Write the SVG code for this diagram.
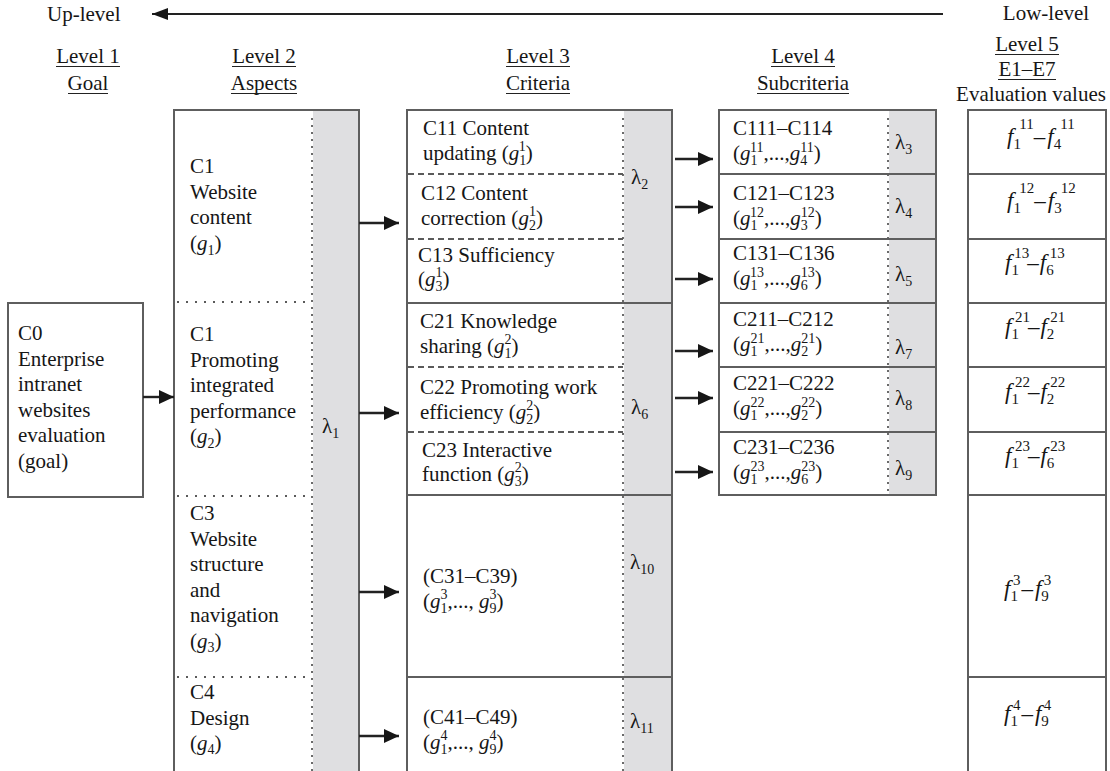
<svg xmlns="http://www.w3.org/2000/svg" width="1110" height="771" viewBox="0 0 1110 771">
  <style>
    .t { font-family: "Liberation Serif", "Times New Roman", serif; font-size: 21px; fill: #161616; }
    .m { text-anchor: middle; }
    .i { font-style: italic; }
    .s { font-size: 14px; }
    .fv { font-size: 23px; }
    .fs { font-size: 15px; }
    .box { fill: #ffffff; stroke: #5e5e5e; stroke-width: 2; }
    .frame { fill: none; stroke: #5e5e5e; stroke-width: 2; }
    .band { fill: #dfdfe1; }
    .dot { stroke: #5a5a5a; stroke-width: 2; stroke-dasharray: 2 7; fill: none; }
    .vdot { stroke: #6a6a6a; stroke-width: 2; stroke-dasharray: 2 5; fill: none; }
    .dash { stroke: #5a5a5a; stroke-width: 2; stroke-dasharray: 6 4; fill: none; }
    .rule { stroke: #5e5e5e; stroke-width: 2; }
    .ul { stroke: #222222; stroke-width: 1.2; }
    .conn { stroke: #222222; stroke-width: 2.4; fill: none; }
  </style>
  <defs>
    <marker id="ah" viewBox="0 0 15 14" refX="15" refY="7" markerWidth="15" markerHeight="14" markerUnits="userSpaceOnUse" orient="auto">
      <path d="M0,0 L15,7 L0,14 Z" fill="#161616"/>
    </marker>
    <marker id="ahTop" viewBox="0 0 16 12" refX="16" refY="6" markerWidth="16" markerHeight="12" markerUnits="userSpaceOnUse" orient="auto">
      <path d="M0,0 L16,6 L0,12 Z" fill="#161616"/>
    </marker>
  </defs>

  <rect width="1110" height="771" fill="#ffffff"/>

  <!-- direction banner -->
  <g id="direction">
    <text class="t" x="47" y="21">Up-level</text>
    <text class="t m" x="1046" y="20">Low-level</text>
  </g>

  <!-- level headings -->
  <g id="headings">
    <text class="t m" x="88" y="63">Level 1</text>
    <text class="t m" x="88" y="90">Goal</text>
    <line class="ul" x1="56" y1="66.5" x2="120" y2="66.5"/>
    <line class="ul" x1="68" y1="93.5" x2="108" y2="93.5"/>

    <text class="t m" x="264" y="63">Level 2</text>
    <text class="t m" x="264" y="90">Aspects</text>
    <line class="ul" x1="232" y1="66.5" x2="296" y2="66.5"/>
    <line class="ul" x1="231" y1="93.5" x2="297" y2="93.5"/>

    <text class="t m" x="538" y="63">Level 3</text>
    <text class="t m" x="538" y="90">Criteria</text>
    <line class="ul" x1="506" y1="66.5" x2="570" y2="66.5"/>
    <line class="ul" x1="506" y1="93.5" x2="570" y2="93.5"/>

    <text class="t m" x="803" y="63">Level 4</text>
    <text class="t m" x="803" y="90">Subcriteria</text>
    <line class="ul" x1="771" y1="66.5" x2="835" y2="66.5"/>
    <line class="ul" x1="757" y1="93.5" x2="849" y2="93.5"/>

    <text class="t m" x="1027" y="51">Level 5</text>
    <text class="t m" x="1027" y="76">E1–E7</text>
    <line class="ul" x1="995" y1="54.5" x2="1059" y2="54.5"/>
    <line class="ul" x1="998" y1="79.5" x2="1056" y2="79.5"/>
    <text class="t m" x="1031" y="101">Evaluation values</text>
  </g>

  <!-- Level 1: goal -->
  <g id="goal">
    <rect class="box" x="8" y="303" width="135" height="194"/>
    <text class="t" x="18" y="340">C0</text>
    <text class="t" x="18" y="365.5">Enterprise</text>
    <text class="t" x="18" y="391">intranet</text>
    <text class="t" x="18" y="416.5">websites</text>
    <text class="t" x="18" y="442">evaluation</text>
    <text class="t" x="18" y="467.5">(goal)</text>
  </g>

  <!-- Level 2: aspects -->
  <g id="aspects">
    <rect class="box" x="174" y="110" width="185" height="700"/>
    <rect class="band" x="313" y="111" width="45" height="699"/>
    <line class="vdot" x1="312" y1="118" x2="312" y2="771"/>
    <line class="dot" x1="177" y1="302" x2="312" y2="302"/>
    <line class="dot" x1="177" y1="496" x2="312" y2="496"/>
    <line class="dot" x1="177" y1="677" x2="312" y2="677"/>
    <rect class="frame" x="174" y="110" width="185" height="700"/>

    <text class="t" x="190" y="173">C1</text>
    <text class="t" x="190" y="198.5">Website</text>
    <text class="t" x="190" y="224">content</text>
    <text class="t" x="190" y="249.5">(<tspan class="i">g</tspan><tspan class="s" dy="5">1</tspan><tspan dy="-5">)</tspan></text>

    <text class="t" x="190" y="341">C1</text>
    <text class="t" x="190" y="366.5">Promoting</text>
    <text class="t" x="190" y="392">integrated</text>
    <text class="t" x="190" y="417.5">performance</text>
    <text class="t" x="190" y="443">(<tspan class="i">g</tspan><tspan class="s" dy="5">2</tspan><tspan dy="-5">)</tspan></text>

    <text class="t" x="190" y="520">C3</text>
    <text class="t" x="190" y="545.5">Website</text>
    <text class="t" x="190" y="571">structure</text>
    <text class="t" x="190" y="596.5">and</text>
    <text class="t" x="190" y="622">navigation</text>
    <text class="t" x="190" y="647.5">(<tspan class="i">g</tspan><tspan class="s" dy="4">3</tspan><tspan dy="-4">)</tspan></text>

    <text class="t" x="190" y="699">C4</text>
    <text class="t" x="190" y="724.5">Design</text>
    <text class="t" x="190" y="750">(<tspan class="i">g</tspan><tspan class="s" dy="4">4</tspan><tspan dy="-4">)</tspan></text>

    <text class="t" x="322" y="433">λ<tspan class="s" dy="5">1</tspan></text>
  </g>

  <!-- Level 3: criteria -->
  <g id="criteria">
    <rect class="box" x="407" y="110" width="265" height="700"/>
    <rect class="band" x="624" y="111" width="47" height="699"/>
    <line class="vdot" x1="623" y1="118" x2="623" y2="771"/>
    <line class="dash" x1="408" y1="174" x2="623" y2="174"/>
    <line class="dash" x1="408" y1="239" x2="623" y2="239"/>
    <line class="dash" x1="408" y1="367" x2="623" y2="367"/>
    <line class="dash" x1="408" y1="432" x2="623" y2="432"/>
    <line class="rule" x1="407" y1="303" x2="672" y2="303"/>
    <line class="rule" x1="407" y1="495" x2="672" y2="495"/>
    <line class="rule" x1="407" y1="677" x2="672" y2="677"/>
    <rect class="frame" x="407" y="110" width="265" height="700"/>

    <text class="t" x="423" y="135">C11 Content</text>
    <text class="t" x="423" y="160">updating (<tspan class="i">g</tspan><tspan class="s" dy="5">1</tspan><tspan class="s" dx="-7" dy="-14">1</tspan><tspan dy="9">)</tspan></text>

    <text class="t" x="421" y="200">C12 Content</text>
    <text class="t" x="421" y="225">correction (<tspan class="i">g</tspan><tspan class="s" dy="5">2</tspan><tspan class="s" dx="-7" dy="-14">1</tspan><tspan dy="9">)</tspan></text>

    <text class="t" x="418" y="262">C13 Sufficiency</text>
    <text class="t" x="418" y="286">(<tspan class="i">g</tspan><tspan class="s" dy="5">3</tspan><tspan class="s" dx="-7" dy="-14">1</tspan><tspan dy="9">)</tspan></text>

    <text class="t" x="420" y="328">C21 Knowledge</text>
    <text class="t" x="420" y="353">sharing (<tspan class="i">g</tspan><tspan class="s" dy="5">1</tspan><tspan class="s" dx="-7" dy="-14">2</tspan><tspan dy="9">)</tspan></text>

    <text class="t" x="420" y="394">C22 Promoting work</text>
    <text class="t" x="420" y="419">efficiency (<tspan class="i">g</tspan><tspan class="s" dy="5">2</tspan><tspan class="s" dx="-7" dy="-14">2</tspan><tspan dy="9">)</tspan></text>

    <text class="t" x="422" y="457">C23 Interactive</text>
    <text class="t" x="422" y="481">function (<tspan class="i">g</tspan><tspan class="s" dy="5">3</tspan><tspan class="s" dx="-7" dy="-14">2</tspan><tspan dy="9">)</tspan></text>

    <text class="t" x="423" y="583">(C31–C39)</text>
    <text class="t" x="423" y="608">(<tspan class="i">g</tspan><tspan class="s" dy="5">1</tspan><tspan class="s" dx="-7" dy="-14">3</tspan><tspan dy="9">,..., </tspan><tspan class="i">g</tspan><tspan class="s" dy="5">9</tspan><tspan class="s" dx="-7" dy="-14">3</tspan><tspan dy="9">)</tspan></text>

    <text class="t" x="423" y="724">(C41–C49)</text>
    <text class="t" x="423" y="749">(<tspan class="i">g</tspan><tspan class="s" dy="5">1</tspan><tspan class="s" dx="-7" dy="-14">4</tspan><tspan dy="9">,..., </tspan><tspan class="i">g</tspan><tspan class="s" dy="5">9</tspan><tspan class="s" dx="-7" dy="-14">4</tspan><tspan dy="9">)</tspan></text>

    <text class="t" x="631" y="184">λ<tspan class="s" dy="5">2</tspan></text>
    <text class="t" x="631" y="414">λ<tspan class="s" dy="5">6</tspan></text>
    <text class="t" x="630" y="569">λ<tspan class="s" dy="5">10</tspan></text>
    <text class="t" x="630" y="728">λ<tspan class="s" dy="5">11</tspan></text>
  </g>

  <!-- Level 4: subcriteria -->
  <g id="subcriteria">
    <rect class="box" x="719" y="110" width="217" height="385"/>
    <rect class="band" x="889" y="111" width="46" height="383"/>
    <line class="vdot" x1="888" y1="118" x2="888" y2="495"/>
    <line class="rule" x1="719" y1="174" x2="936" y2="174"/>
    <line class="rule" x1="719" y1="239" x2="936" y2="239"/>
    <line class="rule" x1="719" y1="303" x2="936" y2="303"/>
    <line class="rule" x1="719" y1="367" x2="936" y2="367"/>
    <line class="rule" x1="719" y1="432" x2="936" y2="432"/>
    <rect class="frame" x="719" y="110" width="217" height="385"/>

    <text class="t" x="733" y="135">C111–C114</text>
    <text class="t" x="733" y="160">(<tspan class="i">g</tspan><tspan class="s" dy="5">1</tspan><tspan class="s" dx="-7" dy="-13">11</tspan><tspan dy="8">,...,</tspan><tspan class="i">g</tspan><tspan class="s" dy="5">4</tspan><tspan class="s" dx="-7" dy="-13">11</tspan><tspan dy="8">)</tspan></text>

    <text class="t" x="733" y="200">C121–C123</text>
    <text class="t" x="733" y="225">(<tspan class="i">g</tspan><tspan class="s" dy="5">1</tspan><tspan class="s" dx="-7" dy="-13">12</tspan><tspan dy="8">,...,</tspan><tspan class="i">g</tspan><tspan class="s" dy="5">3</tspan><tspan class="s" dx="-7" dy="-13">12</tspan><tspan dy="8">)</tspan></text>

    <text class="t" x="733" y="260">C131–C136</text>
    <text class="t" x="733" y="285">(<tspan class="i">g</tspan><tspan class="s" dy="5">1</tspan><tspan class="s" dx="-7" dy="-13">13</tspan><tspan dy="8">,...,</tspan><tspan class="i">g</tspan><tspan class="s" dy="5">6</tspan><tspan class="s" dx="-7" dy="-13">13</tspan><tspan dy="8">)</tspan></text>

    <text class="t" x="733" y="326">C211–C212</text>
    <text class="t" x="733" y="351">(<tspan class="i">g</tspan><tspan class="s" dy="5">1</tspan><tspan class="s" dx="-7" dy="-13">21</tspan><tspan dy="8">,...,</tspan><tspan class="i">g</tspan><tspan class="s" dy="5">2</tspan><tspan class="s" dx="-7" dy="-13">21</tspan><tspan dy="8">)</tspan></text>

    <text class="t" x="733" y="390">C221–C222</text>
    <text class="t" x="733" y="415">(<tspan class="i">g</tspan><tspan class="s" dy="5">1</tspan><tspan class="s" dx="-7" dy="-13">22</tspan><tspan dy="8">,...,</tspan><tspan class="i">g</tspan><tspan class="s" dy="5">2</tspan><tspan class="s" dx="-7" dy="-13">22</tspan><tspan dy="8">)</tspan></text>

    <text class="t" x="733" y="454">C231–C236</text>
    <text class="t" x="733" y="479">(<tspan class="i">g</tspan><tspan class="s" dy="5">1</tspan><tspan class="s" dx="-7" dy="-13">23</tspan><tspan dy="8">,...,</tspan><tspan class="i">g</tspan><tspan class="s" dy="5">6</tspan><tspan class="s" dx="-7" dy="-13">23</tspan><tspan dy="8">)</tspan></text>

    <text class="t" x="895" y="149">λ<tspan class="s" dy="5">3</tspan></text>
    <text class="t" x="895" y="213">λ<tspan class="s" dy="5">4</tspan></text>
    <text class="t" x="895" y="281">λ<tspan class="s" dy="5">5</tspan></text>
    <text class="t" x="895" y="354">λ<tspan class="s" dy="5">7</tspan></text>
    <text class="t" x="895" y="405">λ<tspan class="s" dy="5">8</tspan></text>
    <text class="t" x="895" y="475">λ<tspan class="s" dy="5">9</tspan></text>
  </g>

  <!-- Level 5: evaluation values -->
  <g id="values">
    <rect class="box" x="968" y="110" width="138" height="700"/>
    <line class="rule" x1="968" y1="174" x2="1106" y2="174"/>
    <line class="rule" x1="968" y1="239" x2="1106" y2="239"/>
    <line class="rule" x1="968" y1="303" x2="1106" y2="303"/>
    <line class="rule" x1="968" y1="367" x2="1106" y2="367"/>
    <line class="rule" x1="968" y1="432" x2="1106" y2="432"/>
    <line class="rule" x1="968" y1="495" x2="1106" y2="495"/>
    <line class="rule" x1="968" y1="677" x2="1106" y2="677"/>

    <text class="t fv" x="1007" y="144"><tspan class="i">f</tspan><tspan class="fs" dy="5">1</tspan><tspan class="fs" dx="-1" dy="-20">11</tspan><tspan dx="0" dy="15">–</tspan><tspan class="i" dx="2">f</tspan><tspan class="fs" dy="5">4</tspan><tspan class="fs" dx="-1" dy="-20">11</tspan></text>
    <text class="t fv" x="1007" y="208"><tspan class="i">f</tspan><tspan class="fs" dy="5">1</tspan><tspan class="fs" dx="-1" dy="-20">12</tspan><tspan dx="0" dy="15">–</tspan><tspan class="i" dx="2">f</tspan><tspan class="fs" dy="5">3</tspan><tspan class="fs" dx="-1" dy="-20">12</tspan></text>
    <text class="t fv" x="1005" y="270"><tspan class="i">f</tspan><tspan class="fs" dy="5">1</tspan><tspan class="fs" dx="-4" dy="-17">13</tspan><tspan dx="-2" dy="12">–</tspan><tspan class="i" dx="1">f</tspan><tspan class="fs" dy="5">6</tspan><tspan class="fs" dx="-4" dy="-17">13</tspan></text>
    <text class="t fv" x="1005" y="334"><tspan class="i">f</tspan><tspan class="fs" dy="5">1</tspan><tspan class="fs" dx="-4" dy="-17">21</tspan><tspan dx="-2" dy="12">–</tspan><tspan class="i" dx="1">f</tspan><tspan class="fs" dy="5">2</tspan><tspan class="fs" dx="-4" dy="-17">21</tspan></text>
    <text class="t fv" x="1005" y="399"><tspan class="i">f</tspan><tspan class="fs" dy="5">1</tspan><tspan class="fs" dx="-4" dy="-17">22</tspan><tspan dx="-2" dy="12">–</tspan><tspan class="i" dx="1">f</tspan><tspan class="fs" dy="5">2</tspan><tspan class="fs" dx="-4" dy="-17">22</tspan></text>
    <text class="t fv" x="1005" y="463"><tspan class="i">f</tspan><tspan class="fs" dy="5">1</tspan><tspan class="fs" dx="-4" dy="-17">23</tspan><tspan dx="-2" dy="12">–</tspan><tspan class="i" dx="1">f</tspan><tspan class="fs" dy="5">6</tspan><tspan class="fs" dx="-4" dy="-17">23</tspan></text>
    <text class="t fv" x="1004" y="596"><tspan class="i">f</tspan><tspan class="fs" dy="5">1</tspan><tspan class="fs" dx="-5" dy="-16">3</tspan><tspan dx="1" dy="11">–</tspan><tspan class="i" dx="2">f</tspan><tspan class="fs" dy="5">9</tspan><tspan class="fs" dx="-5" dy="-16">3</tspan></text>
    <text class="t fv" x="1004" y="721"><tspan class="i">f</tspan><tspan class="fs" dy="5">1</tspan><tspan class="fs" dx="-5" dy="-16">4</tspan><tspan dx="1" dy="11">–</tspan><tspan class="i" dx="2">f</tspan><tspan class="fs" dy="5">9</tspan><tspan class="fs" dx="-5" dy="-16">4</tspan></text>
  </g>

  <!-- connectors -->
  <g id="connectors">
    <line x1="943" y1="14" x2="152" y2="14" stroke="#222222" stroke-width="2" marker-end="url(#ahTop)"/>

    <line class="conn" x1="143" y1="397" x2="174" y2="397" marker-end="url(#ah)"/>

    <line class="conn" x1="359" y1="223" x2="399" y2="223" marker-end="url(#ah)"/>
    <line class="conn" x1="359" y1="413" x2="399" y2="413" marker-end="url(#ah)"/>
    <line class="conn" x1="359" y1="592" x2="399" y2="592" marker-end="url(#ah)"/>
    <line class="conn" x1="359" y1="736" x2="399" y2="736" marker-end="url(#ah)"/>

    <line class="conn" x1="675" y1="159" x2="713" y2="159" marker-end="url(#ah)"/>
    <line class="conn" x1="675" y1="207" x2="713" y2="207" marker-end="url(#ah)"/>
    <line class="conn" x1="675" y1="279" x2="713" y2="279" marker-end="url(#ah)"/>
    <line class="conn" x1="675" y1="351" x2="713" y2="351" marker-end="url(#ah)"/>
    <line class="conn" x1="675" y1="398" x2="713" y2="398" marker-end="url(#ah)"/>
    <line class="conn" x1="675" y1="472" x2="713" y2="472" marker-end="url(#ah)"/>
  </g>
</svg>
